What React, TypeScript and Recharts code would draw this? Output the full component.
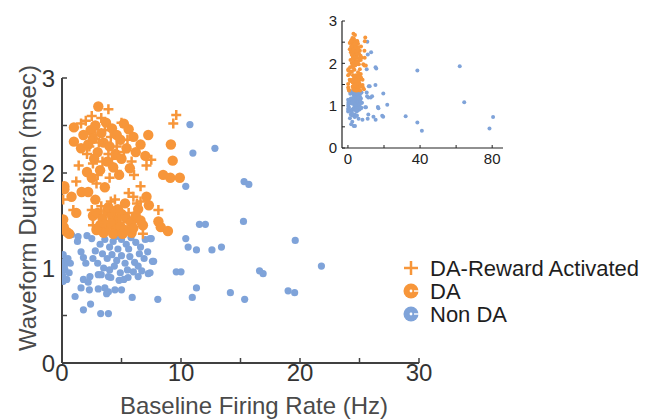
import { ScatterChart, Scatter, XAxis, YAxis, Label, Legend } from "recharts";

const ORANGE = "#f7963a";
const BLUE = "#7fa3d9";
const AXIS = "#404040";
const FONT = "'Liberation Sans', Arial, Helvetica, sans-serif";

// [baseline firing rate (Hz), waveform duration (msec)]
const daPoints: [number, number][] = [
  [3.05, 2.7], [3.7, 2.53], [1.0, 2.48], [5.6, 2.46], [7.25, 2.4], [1.0, 2.33], [6.6, 2.3],
  [9.15, 2.3], [5.43, 2.26], [1.6, 2.26], [7.0, 2.18], [9.3, 2.13], [2.1, 2.01], [8.5, 1.98],
  [9.1, 1.95], [9.9, 1.95], [2.4, 2.45], [2.8, 2.5], [3.3, 2.42], [4.2, 2.47], [4.6, 2.4],
  [4.9, 2.35], [2.6, 2.36], [3.5, 2.32], [4.0, 2.28], [2.2, 2.3], [3.0, 2.22], [4.5, 2.2],
  [5.0, 2.15], [3.8, 2.12], [2.7, 2.15], [4.3, 2.06], [5.7, 2.05], [3.2, 2.03], [4.8, 1.98],
  [2.5, 1.95], [6.2, 2.22], [1.8, 2.4], [5.2, 2.52], [6.0, 2.38],
  [0.2, 1.86], [0.2, 1.83], [1.65, 1.8], [2.2, 1.8], [0.8, 1.75], [7.1, 1.75], [7.3, 1.66],
  [5.3, 1.68], [0.1, 1.51], [8.1, 1.49], [8.3, 1.43], [8.9, 1.39], [0.15, 1.43], [0.4, 1.38],
  [0.6, 1.36], [5.85, 1.37], [3.6, 1.85], [6.4, 1.62], [1.2, 1.58], [2.8, 1.72],
  [2.6, 1.55], [3.0, 1.58], [3.4, 1.52], [3.8, 1.6], [4.2, 1.55], [4.6, 1.5], [5.0, 1.57],
  [5.4, 1.52], [5.8, 1.48], [6.2, 1.55], [6.6, 1.5], [3.2, 1.45], [3.7, 1.42], [4.1, 1.47],
  [4.5, 1.4], [4.9, 1.44], [5.3, 1.4], [6.0, 1.42], [3.5, 1.37], [4.3, 1.36], [5.1, 1.36],
  [2.9, 1.4], [6.8, 1.45], [3.9, 1.64], [4.7, 1.62],
];

const rewardPoints: [number, number][] = [
  [3.9, 2.67], [9.6, 2.61], [9.35, 2.52], [5.0, 2.53], [7.5, 2.14], [7.1, 2.08], [5.85, 2.12],
  [1.4, 2.08], [6.05, 1.98], [1.2, 1.91], [6.6, 1.86], [2.9, 1.89], [0.1, 1.72], [5.6, 1.79],
  [6.0, 1.75], [6.6, 1.7], [4.45, 1.72], [0.95, 1.61], [2.5, 1.61], [8.1, 1.61], [6.8, 1.36],
  [2.0, 2.55], [2.5, 2.6], [3.3, 2.58], [2.8, 2.4], [3.6, 2.45], [4.1, 2.38], [2.3, 2.28],
  [3.1, 2.32], [3.9, 2.2], [4.6, 2.28], [2.6, 2.1], [3.4, 2.12], [4.2, 2.15], [5.2, 2.22],
  [3.0, 1.98], [4.0, 1.95], [4.6, 2.02], [2.1, 2.2], [5.5, 2.35], [1.6, 2.52],
  [3.3, 1.65], [4.1, 1.7], [4.8, 1.52], [3.6, 1.48], [5.6, 1.58], [2.6, 1.45], [4.4, 1.6],
  [6.3, 1.68],
];

const nonDaPoints: [number, number][] = [
  [10.75, 2.51], [11.0, 2.21], [12.85, 2.26], [10.4, 1.86], [15.3, 1.91], [15.7, 1.88],
  [11.55, 1.46], [12.05, 1.46], [15.25, 1.49], [10.4, 1.31], [10.6, 1.22], [11.3, 1.19],
  [12.6, 1.19], [13.4, 1.22], [19.6, 1.29], [7.7, 1.07], [7.4, 1.31], [9.6, 0.96], [10.0, 0.96],
  [16.6, 0.97], [16.9, 0.94], [21.8, 1.02], [11.3, 0.79], [10.95, 0.69], [14.15, 0.74],
  [15.35, 0.67], [19.0, 0.76], [19.55, 0.74], [8.05, 0.67], [7.4, 0.95],
  [1.1, 0.7], [1.8, 0.56], [2.4, 0.62], [3.25, 0.52], [3.9, 0.52], [5.9, 0.69], [1.8, 1.11],
  [2.35, 0.91], [3.05, 0.93], [3.9, 0.91], [1.8, 0.88], [2.2, 0.85], [1.6, 0.79], [2.3, 0.77],
  [3.05, 0.78], [3.6, 0.79], [3.75, 0.73], [3.9, 0.75], [4.45, 0.77], [5.0, 0.77], [4.8, 0.87],
  [5.55, 0.9], [6.4, 0.91], [7.25, 0.94], [7.5, 1.31], [7.6, 1.07],
  [0.1, 1.14], [0.25, 1.07], [0.5, 1.1], [0.7, 1.05], [0.25, 0.98], [0.1, 0.86], [0.4, 0.88],
  [0.2, 1.02], [0.6, 0.95], [0.05, 0.92],
  [0.8, 1.35], [1.35, 1.33], [2.1, 1.34], [2.5, 1.31], [1.3, 1.28],
  [3.2, 1.25], [3.6, 1.3], [4.0, 1.22], [4.3, 1.28], [4.7, 1.2], [5.0, 1.3], [5.4, 1.25],
  [5.8, 1.32], [6.2, 1.27], [6.6, 1.22], [7.0, 1.3], [3.4, 1.15], [3.8, 1.1], [4.2, 1.14],
  [4.6, 1.08], [5.0, 1.13], [5.3, 1.05], [5.7, 1.12], [6.1, 1.06], [6.5, 1.15], [6.9, 1.1],
  [3.0, 1.05], [3.5, 1.0], [4.0, 0.98], [4.4, 1.02], [4.9, 0.95], [5.5, 0.98], [6.0, 0.96],
  [6.4, 1.02], [2.8, 1.18], [2.6, 1.1], [3.3, 0.93], [5.2, 0.88], [4.1, 0.9], [2.0, 1.05],
  [1.6, 1.17], [6.7, 0.97], [7.2, 1.17], [5.6, 1.2], [4.5, 1.33],
  // high-rate cells, only inside the inset range
  [32, 0.75], [38.5, 0.6], [41, 0.41], [38.5, 1.83], [62, 1.93], [64.5, 1.08], [80.5, 0.73],
  [78.5, 0.46],
];

const mainXTicks = [0, 5, 10, 15, 20, 25, 30];
const yTicks = [0, 0.5, 1, 1.5, 2, 2.5, 3];
const insetXTicks = [0, 20, 40, 60, 80];

const legendItems = [
  { label: "DA-Reward Activated", kind: "plus" },
  { label: "DA", kind: "da" },
  { label: "Non DA", kind: "non" },
];

const toXY = (pts: [number, number][]) => pts.map(([x, y]) => ({ x, y }));

const dot = (r: number, fill: string) => (props: any) =>
  <circle cx={props.cx} cy={props.cy} r={r} fill={fill} />;

const plus = (props: any) => {
  const { cx, cy } = props;
  const s = 5;
  return (
    <path
      d={`M${cx - s},${cy}H${cx + s}M${cx},${cy - s}V${cy + s}`}
      stroke={ORANGE}
      strokeWidth={2.5}
      fill="none"
    />
  );
};

const LegendBox = () => (
  <svg width={264} height={84} style={{ display: "block" }}>
    {legendItems.map((item, i) => {
      const cx = 16;
      const cy = 17 + i * 23;
      const color = item.kind === "non" ? BLUE : ORANGE;
      return (
        <g key={item.label}>
          {item.kind === "plus" ? (
            <path
              d={`M${cx - 7},${cy}H${cx + 7}M${cx},${cy - 7}V${cy + 7}`}
              stroke={ORANGE}
              strokeWidth={2.5}
            />
          ) : (
            <g>
              <circle cx={cx} cy={cy} r={7.5} fill={color} />
              <circle cx={cx} cy={cy} r={1.4} fill="#fff" />
              <line x1={cx + 3} y1={cy} x2={cx + 8} y2={cy} stroke="#fff" strokeWidth={1.4} />
            </g>
          )}
          <text x={35} y={cy + 8} fontSize={22} fontFamily={FONT} fill="#1e1e1e">
            {item.label}
          </text>
        </g>
      );
    })}
  </svg>
);

const tickStyle = { fill: "#333", fontSize: 24, fontFamily: FONT };
const insetTick = { fill: "#222", fontSize: 15, fontFamily: FONT };

export default function App() {
  const da = toXY(daPoints);
  const reward = toXY(rewardPoints);
  const nonDa = toXY(nonDaPoints);

  return (
    <div style={{ position: "absolute", left: 0, top: 0, width: 659, height: 420, background: "#fff" }}>
      <div style={{ position: "absolute", left: 0, top: 0 }}>
        <ScatterChart width={659} height={420} margin={{ top: 78, right: 240, bottom: 17, left: 12 }}>
          <XAxis
            type="number"
            dataKey="x"
            domain={[0, 30]}
            ticks={mainXTicks}
            interval={0}
            allowDataOverflow
            tickFormatter={(v: number) => (v % 10 === 0 ? String(v) : "")}
            tickSize={-5}
            tickMargin={6}
            height={40}
            axisLine={{ stroke: AXIS, strokeWidth: 2 }}
            tickLine={{ stroke: AXIS, strokeWidth: 1.5 }}
            tick={tickStyle}
          >
            <Label
              content={() => (
                <text x={254} y={414} textAnchor="middle" fontSize={24} fontFamily={FONT} fill="#4a4a4a">
                  Baseline Firing Rate (Hz)
                </text>
              )}
            />
          </XAxis>
          <YAxis
            type="number"
            dataKey="y"
            domain={[0, 3]}
            ticks={yTicks}
            interval={0}
            allowDataOverflow
            tickFormatter={(v: number) => (Number.isInteger(v) ? String(v) : "")}
            tickSize={-5}
            tickMargin={12}
            width={50}
            axisLine={{ stroke: AXIS, strokeWidth: 2 }}
            tickLine={{ stroke: AXIS, strokeWidth: 1.5 }}
            tick={tickStyle}
          >
            <Label
              content={() => (
                <text
                  x={36}
                  y={208}
                  transform="rotate(-90 36 208)"
                  textAnchor="middle"
                  fontSize={24}
                  fontFamily={FONT}
                  fill="#4a4a4a"
                >
                  Waveform Duration (msec)
                </text>
              )}
            />
          </YAxis>
          <Scatter
            name="Non DA"
            data={nonDa.filter((p) => p.x <= 30)}
            shape={dot(3.6, BLUE)}
            isAnimationActive={false}
          />
          <Scatter name="DA" data={da} shape={dot(5.2, ORANGE)} isAnimationActive={false} />
          <Scatter name="DA-Reward Activated" data={reward} shape={plus} isAnimationActive={false} />
          <Legend
            layout="horizontal"
            verticalAlign="middle"
            align="center"
            wrapperStyle={{ left: 395, top: 251, width: 264, height: 84 }}
            content={() => <LegendBox />}
          />
        </ScatterChart>
      </div>

      <div style={{ position: "absolute", left: 310, top: 0 }}>
        <ScatterChart width={200} height={175} margin={{ top: 21, right: 7, bottom: 5, left: 0 }}>
          <XAxis
            type="number"
            dataKey="x"
            domain={[-3.3, 86]}
            ticks={insetXTicks}
            interval={0}
            allowDataOverflow
            tickFormatter={(v: number) => (v % 40 === 0 ? String(v) : "")}
            tickSize={-3}
            tickMargin={8}
            height={22}
            axisLine={{ stroke: "#222", strokeWidth: 1.2 }}
            tickLine={{ stroke: "#222", strokeWidth: 1 }}
            tick={insetTick}
          />
          <YAxis
            type="number"
            dataKey="y"
            domain={[0, 3]}
            ticks={yTicks}
            interval={0}
            allowDataOverflow
            tickFormatter={(v: number) => (Number.isInteger(v) ? String(v) : "")}
            tickSize={-3}
            tickMargin={8}
            width={32}
            axisLine={{ stroke: "#222", strokeWidth: 1.2 }}
            tickLine={{ stroke: "#222", strokeWidth: 1 }}
            tick={insetTick}
          />
          <Scatter data={nonDa} shape={dot(2, BLUE)} isAnimationActive={false} />
          <Scatter data={da} shape={dot(2, ORANGE)} isAnimationActive={false} />
          <Scatter data={reward} shape={dot(2, ORANGE)} isAnimationActive={false} />
        </ScatterChart>
      </div>
    </div>
  );
}
